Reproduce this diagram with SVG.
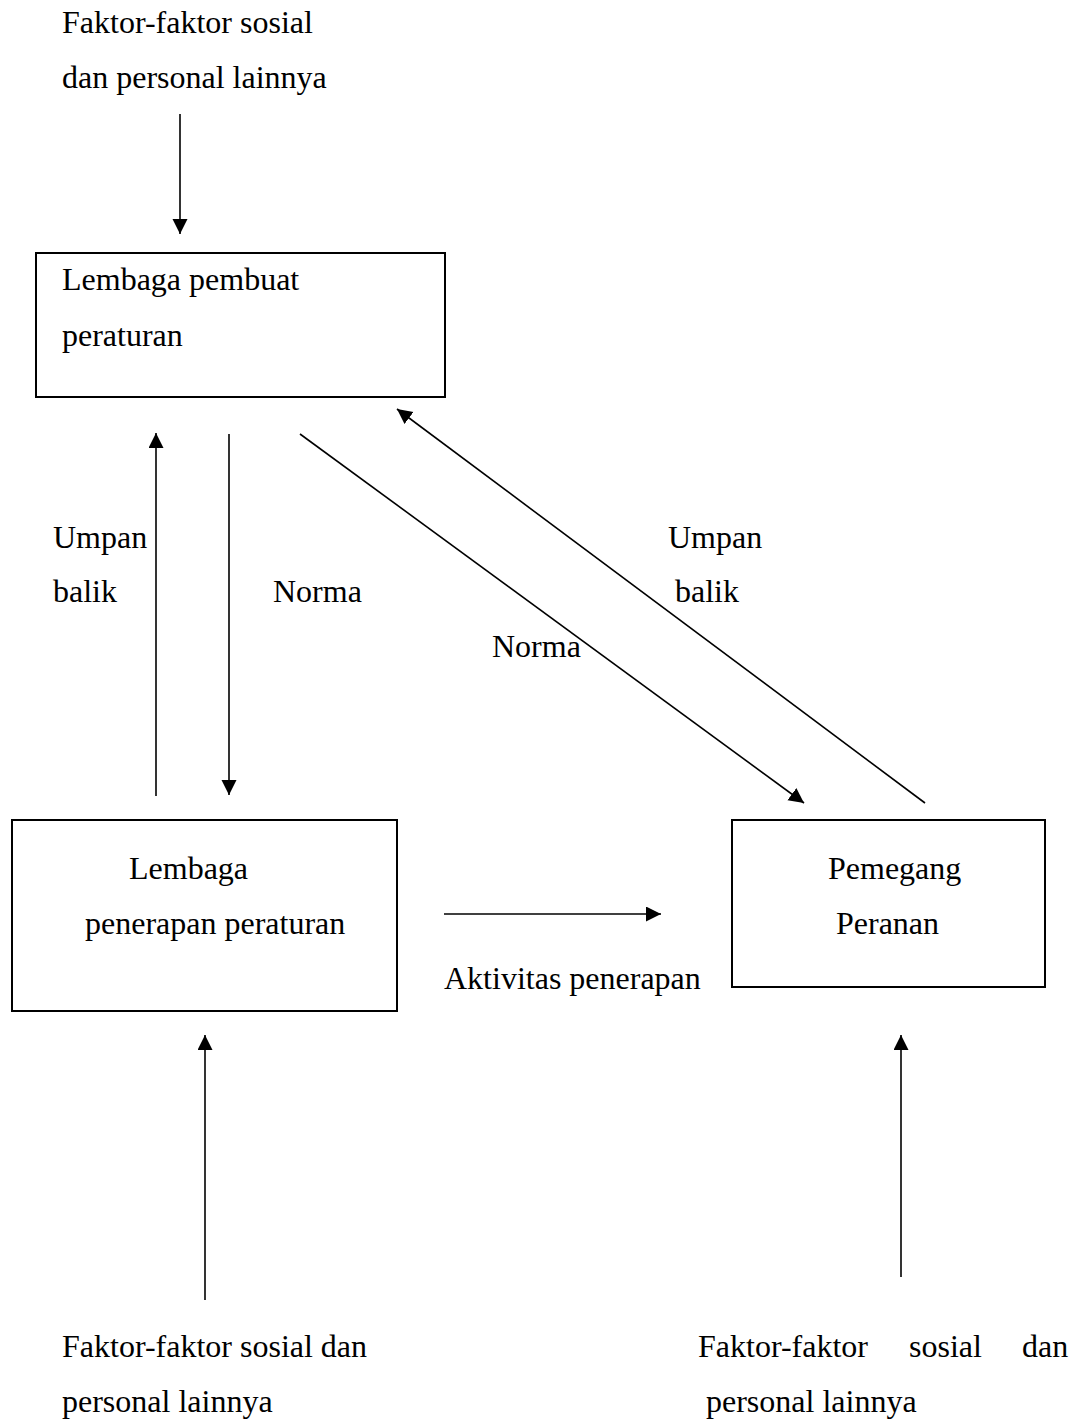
<svg xmlns="http://www.w3.org/2000/svg" width="1077" height="1422" viewBox="0 0 1077 1422">
  <style>
    text { font-family: "Liberation Serif", "Times New Roman", serif; font-size: 32px; fill: #000; }
    .box { fill: #fff; stroke: #000; stroke-width: 2; }
    .conn line { stroke: #000; stroke-width: 1.6; fill: none; }
    .arr { marker-end: url(#ah); }
  </style>
  <defs>
    <marker id="ah" markerUnits="userSpaceOnUse" markerWidth="16" markerHeight="16" viewBox="0 0 16 16" refX="15" refY="7.5" orient="auto">
      <path d="M0,0 L15,7.5 L0,15 z" fill="#000"/>
    </marker>
  </defs>
  <rect width="1077" height="1422" fill="#fff"/>

  <g id="top-factors">
    <text x="62" y="33">Faktor-faktor sosial</text>
    <text x="62" y="88">dan personal lainnya</text>
  </g>

  <g id="lembaga-pembuat">
    <rect class="box" x="36" y="253" width="409" height="144"/>
    <text x="62" y="290">Lembaga pembuat</text>
    <text x="62" y="346">peraturan</text>
  </g>

  <g id="lembaga-penerapan">
    <rect class="box" x="12" y="820" width="385" height="191"/>
    <text x="129" y="879">Lembaga</text>
    <text x="85" y="934">penerapan peraturan</text>
  </g>

  <g id="pemegang-peranan">
    <rect class="box" x="732" y="820" width="313" height="167"/>
    <text x="828" y="879">Pemegang</text>
    <text x="836" y="934">Peranan</text>
  </g>

  <g id="bottom-left-factors">
    <text x="62" y="1357">Faktor-faktor sosial dan</text>
    <text x="62" y="1412">personal lainnya</text>
  </g>

  <g id="bottom-right-factors">
    <text x="698" y="1357">Faktor-faktor</text>
    <text x="909" y="1357">sosial</text>
    <text x="1022" y="1357">dan</text>
    <text x="706" y="1412">personal lainnya</text>
  </g>

  <g id="connectors" class="conn">
    <line class="arr" x1="180" y1="114" x2="180" y2="234"/>
    <line class="arr" x1="156" y1="796" x2="156" y2="433"/>
    <line class="arr" x1="229" y1="434" x2="229" y2="795"/>
    <line class="arr" x1="300" y1="434" x2="804" y2="803"/>
    <line class="arr" x1="925" y1="803" x2="397" y2="409"/>
    <line class="arr" x1="444" y1="914" x2="661" y2="914"/>
    <line class="arr" x1="205" y1="1300" x2="205" y2="1035"/>
    <line class="arr" x1="901" y1="1277" x2="901" y2="1035"/>
  </g>

  <g id="labels">
    <text x="53" y="548">Umpan</text>
    <text x="53" y="602">balik</text>
    <text x="273" y="602">Norma</text>
    <text x="492" y="657">Norma</text>
    <text x="668" y="548">Umpan</text>
    <text x="675" y="602">balik</text>
    <text x="444" y="989">Aktivitas penerapan</text>
  </g>
</svg>
